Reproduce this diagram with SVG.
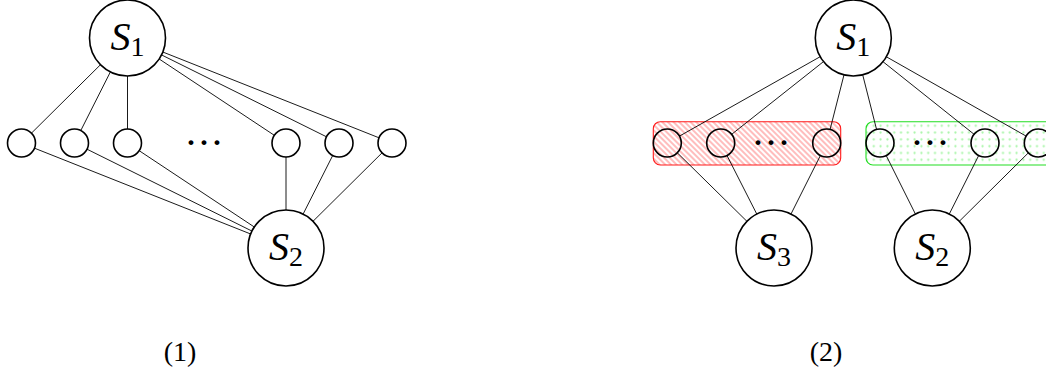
<svg xmlns="http://www.w3.org/2000/svg" width="1046" height="377" viewBox="0 0 1046 377">
<defs>
<style>
.big{fill:#fff;stroke:#000;stroke-width:1.6}
.sm{fill:none;stroke:#000;stroke-width:1.6}
.smw{fill:#fff;stroke:#000;stroke-width:1.6}
.lab{font-family:"Liberation Serif","DejaVu Serif",serif;font-style:italic;font-size:40px;text-anchor:middle}
.sub{font-style:normal;font-size:28px}
.cap{font-family:"Liberation Serif","DejaVu Serif",serif;font-size:28px;text-anchor:middle}
.dt{font-family:"Liberation Serif","DejaVu Serif",serif;font-size:30px;text-anchor:middle;font-weight:bold}
#edges line{stroke:#000;stroke-width:0.9}
</style>
<pattern id="hatch" patternUnits="userSpaceOnUse" width="4" height="4" patternTransform="rotate(45)">
<line x1="0" y1="2" x2="4" y2="2" stroke="#ff4040" stroke-width="0.7"/>
</pattern>
<pattern id="dotp" patternUnits="userSpaceOnUse" width="6.8" height="6.8">
<circle cx="3.4" cy="3.4" r="1.1" fill="#a6f5a6"/>
</pattern>
</defs>
<rect width="1046" height="377" fill="#fff"/>

<g id="groups">
<rect x="653.3" y="121.7" width="187.4" height="43.3" rx="7" fill="url(#hatch)" stroke="#ff1a1a" stroke-width="1.1"/>
<rect x="866" y="121.7" width="186.3" height="43.3" rx="7" fill="url(#dotp)" stroke="#22dd22" stroke-width="1.1"/>
</g>

<g id="edges">
<line x1="100.5" y1="64.7" x2="31.45" y2="133.15"/>
<line x1="110.4" y1="71.9" x2="80.8" y2="130.5"/>
<line x1="127.5" y1="76" x2="127.5" y2="129"/>
<line x1="159.2" y1="59.0" x2="274.3" y2="135.3"/>
<line x1="161.5" y1="54.9" x2="326.5" y2="136.8"/>
<line x1="162.8" y1="52.0" x2="379.0" y2="137.8"/>
<line x1="34.5" y1="148.2" x2="250.7" y2="234.0"/>
<line x1="87.0" y1="149.2" x2="252.0" y2="231.1"/>
<line x1="139.2" y1="150.7" x2="254.3" y2="227.0"/>
<line x1="286" y1="157" x2="286" y2="210"/>
<line x1="332.7" y1="155.5" x2="303.1" y2="214.1"/>
<line x1="382.05" y1="152.85" x2="313.0" y2="221.3"/>

<line x1="820.2" y1="56.7" x2="679.5" y2="136.1"/>
<line x1="823.5" y1="61.6" x2="731.7" y2="134.3"/>
<line x1="844.0" y1="74.8" x2="830.1" y2="129.4"/>
<line x1="862.7" y1="74.8" x2="876.55" y2="129.4"/>
<line x1="883.0" y1="61.7" x2="974.1" y2="134.3"/>
<line x1="886.4" y1="56.8" x2="1026.1" y2="136.1"/>
<line x1="677.3" y1="152.8" x2="746.9" y2="221.3"/>
<line x1="727.0" y1="155.5" x2="756.8" y2="214.1"/>
<line x1="820.4" y1="155.5" x2="791.0" y2="214.0"/>
<line x1="886.2" y1="155.5" x2="915.4" y2="214.0"/>
<line x1="978.7" y1="155.5" x2="949.3" y2="214.0"/>
<line x1="1028.35" y1="152.85" x2="959.3" y2="221.3"/>
</g>

<g id="left-S1"><circle class="big" cx="127.5" cy="38" r="38"/><text class="lab" x="127.5" y="50">S<tspan class="sub" dy="6">1</tspan></text></g>
<g id="left-S2"><circle class="big" cx="286" cy="248" r="38"/><text class="lab" x="286" y="260">S<tspan class="sub" dy="6">2</tspan></text></g>
<g id="left-v1"><circle class="smw" cx="21.5" cy="143" r="14"/></g>
<g id="left-v2"><circle class="smw" cx="74.5" cy="143" r="14"/></g>
<g id="left-v3"><circle class="smw" cx="127.5" cy="143" r="14"/></g>
<g id="left-v4"><circle class="smw" cx="286" cy="143" r="14"/></g>
<g id="left-v5"><circle class="smw" cx="339" cy="143" r="14"/></g>
<g id="left-v6"><circle class="smw" cx="392" cy="143" r="14"/></g>
<g id="left-dots"><text class="dt" x="191 204 217" y="151.5">···</text></g>

<g id="right-S1"><circle class="big" cx="853.3" cy="38" r="38"/><text class="lab" x="853.3" y="50">S<tspan class="sub" dy="6">1</tspan></text></g>
<g id="right-S3"><circle class="big" cx="774" cy="248" r="38"/><text class="lab" x="774" y="260">S<tspan class="sub" dy="6">3</tspan></text></g>
<g id="right-S2"><circle class="big" cx="932.3" cy="248" r="38"/><text class="lab" x="932.3" y="260">S<tspan class="sub" dy="6">2</tspan></text></g>
<g id="right-r1"><circle class="sm" cx="667.3" cy="143" r="14"/></g>
<g id="right-r2"><circle class="sm" cx="720.7" cy="143" r="14"/></g>
<g id="right-r3"><circle class="sm" cx="826.7" cy="143" r="14"/></g>
<g id="right-g1"><circle class="sm" cx="880" cy="143" r="14"/></g>
<g id="right-g2"><circle class="sm" cx="985" cy="143" r="14"/></g>
<g id="right-g3"><circle class="sm" cx="1038.3" cy="143" r="14"/></g>
<g id="right-dots-red"><text class="dt" x="758 771 784" y="151.5">···</text></g>
<g id="right-dots-green"><text class="dt" x="917 930 943" y="151.5">···</text></g>

<text class="cap" x="180" y="361">(1)</text>
<text class="cap" x="826" y="361">(2)</text>
</svg>
